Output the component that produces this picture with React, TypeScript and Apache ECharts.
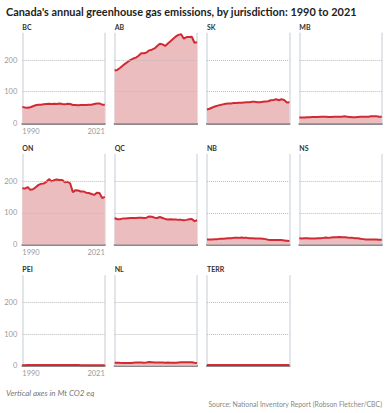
import React, { useEffect, useRef } from "react";
import * as echarts from "echarts";

const years = [
  1990, 1991, 1992, 1993, 1994, 1995, 1996, 1997, 1998, 1999, 2000, 2001, 2002, 2003, 2004, 2005,
  2006, 2007, 2008, 2009, 2010, 2011, 2012, 2013, 2014, 2015, 2016, 2017, 2018, 2019, 2020, 2021,
];

const jurisdictions = ["BC", "AB", "SK", "MB", "ON", "QC", "NB", "NS", "PEI", "NL", "TERR"];

const bc = [52, 50, 49, 51, 54, 57, 59, 59, 60, 61, 62, 61, 62, 61, 63, 61, 60, 62, 61, 58, 58, 57, 58, 58, 58, 59, 59, 61, 63, 63, 59, 59];
const ab = [167, 169, 175, 182, 189, 195, 201, 205, 208, 214, 222, 222, 224, 231, 233, 237, 245, 252, 250, 245, 253, 260, 268, 275, 280, 282, 268, 273, 273, 274, 255, 257];
const sk = [44, 46, 50, 53, 56, 58, 60, 62, 63, 63, 64, 64, 65, 65, 66, 67, 67, 68, 68, 67, 67, 68, 69, 70, 73, 74, 76, 73, 76, 74, 66, 67];
const mb = [18, 18, 18, 19, 19, 20, 20, 20, 21, 21, 21, 20, 20, 21, 21, 21, 21, 22, 21, 20, 19, 19, 20, 21, 21, 21, 21, 22, 22, 22, 21, 21];
const on = [178, 177, 182, 173, 175, 181, 188, 192, 193, 198, 207, 200, 204, 206, 204, 204, 197, 199, 193, 166, 172, 171, 168, 168, 164, 163, 160, 157, 164, 163, 147, 151];
const qc = [84, 80, 80, 82, 82, 83, 84, 84, 84, 85, 85, 84, 85, 89, 88, 85, 84, 87, 84, 81, 79, 80, 79, 79, 78, 78, 77, 78, 80, 81, 74, 77];
const nb = [16, 16, 16, 17, 17, 18, 18, 19, 20, 20, 21, 21, 21, 22, 21, 21, 20, 20, 19, 19, 19, 18, 17, 15, 14, 14, 14, 14, 14, 13, 12, 11];
const ns = [20, 19, 20, 20, 19, 19, 19, 20, 20, 21, 22, 21, 22, 23, 23, 24, 23, 23, 22, 21, 21, 20, 20, 18, 17, 16, 16, 16, 16, 16, 15, 15];
const pei = [1.9, 1.8, 1.9, 1.9, 2.0, 2.0, 2.1, 2.1, 2.1, 2.2, 2.2, 2.2, 2.2, 2.3, 2.2, 2.2, 2.1, 2.1, 2.0, 2.0, 1.9, 1.9, 1.8, 1.7, 1.8, 1.7, 1.7, 1.7, 1.7, 1.7, 1.6, 1.6];
const nl = [9.5, 9.3, 9.0, 8.8, 8.5, 8.6, 8.9, 9.4, 9.9, 10.2, 10.0, 9.7, 10.1, 11.4, 11.0, 10.5, 9.9, 10.3, 10.4, 9.5, 10.0, 9.7, 9.4, 9.6, 10.2, 10.6, 10.7, 11.0, 11.1, 11.0, 9.5, 8.5];
const terr = [2.2, 2.2, 2.1, 2.1, 2.0, 2.1, 2.2, 2.2, 2.2, 2.1, 2.2, 2.3, 2.2, 2.3, 2.3, 2.3, 2.2, 2.3, 2.3, 2.1, 2.1, 2.0, 2.1, 2.0, 2.0, 2.0, 2.0, 1.9, 2.0, 2.0, 1.9, 2.0];

const seriesValues = [bc, ab, sk, mb, on, qc, nb, ns, pei, nl, terr];

const yTickLabels = [0, 100, 200];
const gridLineValues = [100, 200];
const xTickLabels = [1990, 2021];

const titleText = "Canada's annual greenhouse gas emissions, by jurisdiction: 1990 to 2021";
const noteText = "Vertical axes in Mt CO2 eq";
const sourceText = "Source: National Inventory Report (Robson Fletcher/CBC)";

const FONT = "Lato, 'Noto Sans', sans-serif";
const LEFT0 = 22.3;
const TOP0 = 33.3;
const COL_STEP = 92.33;
const ROW_STEP = 121.2;
const W = 82.5;
const H = 90;
const Y_MAX = 285;

export default function App() {
  const ref = useRef<HTMLDivElement>(null);
  useEffect(() => {
    if (!ref.current) return;
    const chart = echarts.init(ref.current, undefined, { renderer: "svg" });
    const grids: any[] = [];
    const xAxes: any[] = [];
    const yAxes: any[] = [];
    const series: any[] = [];
    const texts: any[] = [];
    jurisdictions.forEach((name, i) => {
      const col = i % 4;
      const row = Math.floor(i / 4);
      const left = LEFT0 + col * COL_STEP;
      const top = TOP0 + row * ROW_STEP;
      grids.push({ left, top, width: W, height: H, outerBoundsMode: "none" });
      xAxes.push({
        type: "value",
        gridIndex: i,
        min: years[0],
        max: years[years.length - 1],
        axisLine: { show: true, onZero: false, lineStyle: { color: "#8a8a8a", width: 2 } },
        axisTick: { show: false },
        splitLine: { show: false },
        axisLabel: {
          show: col === 0,
          showMinLabel: true,
          showMaxLabel: true,
          alignMinLabel: "left",
          alignMaxLabel: "right",
          formatter: (v: number) => (xTickLabels.includes(v) ? String(v) : ""),
          color: "#9a9a9a",
          fontSize: 7.5,
          fontFamily: FONT,
          margin: 4,
        },
      });
      yAxes.push({
        type: "value",
        gridIndex: i,
        min: 0,
        max: Y_MAX,
        interval: 100,
        position: "left",
        axisLine: { show: true, onZero: false, lineStyle: { color: "#d8dee4", width: 1.5 } },
        axisTick: { show: false },
        splitLine: { show: false },
        axisLabel: {
          show: col === 0,
          showMaxLabel: false,
          formatter: (v: number) => (yTickLabels.includes(v) ? String(v) : ""),
          color: "#9a9a9a",
          fontSize: 7.5,
          fontFamily: FONT,
          margin: 5,
        },
      });
      yAxes.push({
        type: "value",
        gridIndex: i,
        min: 0,
        max: Y_MAX,
        position: "right",
        axisLine: { show: true, onZero: false, lineStyle: { color: "#d8dee4", width: 1.5 } },
        axisTick: { show: false },
        splitLine: { show: false },
        axisLabel: { show: false },
      });
      series.push({
        type: "line",
        name,
        xAxisIndex: i,
        yAxisIndex: 2 * i,
        data: years.map((y, k) => [y, seriesValues[i][k]]),
        symbol: "none",
        lineStyle: { color: "#d22a33", width: 2 },
        itemStyle: { color: "#d22a33" },
        areaStyle: { color: "#ecbdbf", opacity: 1 },
        markLine: {
          silent: true,
          symbol: "none",
          label: { show: false },
          lineStyle: { color: "#bdbdbd", type: "dotted", width: 1 },
          emphasis: { disabled: true },
          data: gridLineValues.map((v) => ({ yAxis: v })),
        },
      });
      texts.push({
        type: "text",
        x: left,
        y: top - 6.5,
        style: {
          text: name,
          fill: "#333",
          font: `bold 7px ${FONT}`,
          textAlign: "left",
          textVerticalAlign: "middle",
        },
      });
    });
    texts.push({
      type: "text",
      x: 6,
      y: 11.7,
      style: { text: titleText, fill: "#222", font: `bold 10.9px ${FONT}`, textAlign: "left", textVerticalAlign: "middle" },
    });
    texts.push({
      type: "text",
      x: 6,
      y: 393.3,
      style: { text: noteText, fill: "#777", font: `italic 8px ${FONT}`, textAlign: "left", textVerticalAlign: "middle" },
    });
    texts.push({
      type: "text",
      x: 382,
      y: 404.3,
      style: { text: sourceText, fill: "#888", font: `6.9px ${FONT}`, textAlign: "right", textVerticalAlign: "middle" },
    });
    chart.setOption({
      animation: false,
      backgroundColor: "#fff",
      grid: grids,
      xAxis: xAxes,
      yAxis: yAxes,
      series,
      graphic: texts,
    });
    return () => chart.dispose();
  }, []);
  return (
    <div
      ref={ref}
      style={{ position: "fixed", left: 0, top: 0, width: 388, height: 413, background: "#fff" }}
    />
  );
}
